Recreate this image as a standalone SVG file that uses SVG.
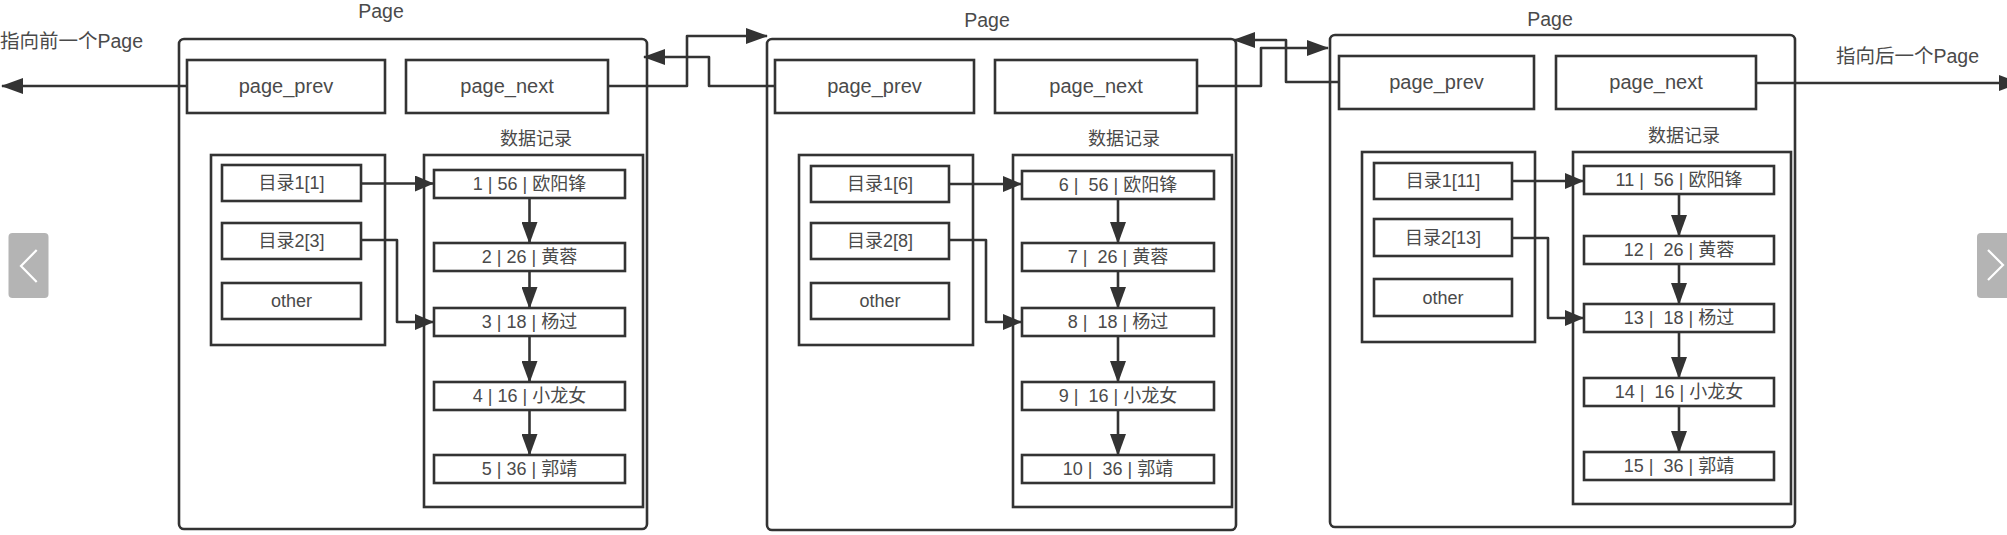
<svg xmlns="http://www.w3.org/2000/svg" width="2007" height="535" viewBox="0 0 2007 535">
<style>
.box{fill:none;stroke:#333;stroke-width:2.6}
.outer{fill:none;stroke:#333;stroke-width:2.6}
.ln{fill:none;stroke:#333;stroke-width:2.6;stroke-linejoin:round}
text{font-family:"Liberation Sans","Noto Sans CJK SC",sans-serif;fill:#4a4a4a;text-anchor:middle;white-space:pre}
.t20{font-size:20px}
.t19{font-size:19.5px}
.t18{font-size:18px}
.t17{font-size:18px}
.lft{text-anchor:start}
.btn{fill:#b4b4b4}
.chev{fill:none;stroke:#fff;stroke-width:2.2}
</style>
<defs>
<marker id="arr" markerUnits="userSpaceOnUse" markerWidth="22" markerHeight="16" refX="21" refY="8" orient="auto">
<path d="M0,0 L22,8 L0,16 z" fill="#333"/>
</marker>
<marker id="arrS" markerUnits="userSpaceOnUse" markerWidth="19" markerHeight="16" refX="18" refY="8" orient="auto">
<path d="M0,0 L19,8 L0,16 z" fill="#333"/>
</marker>
</defs>

<g id="labels">
<text class="t19 lft" x="0" y="48">指向前一个Page</text>
<text class="t19 lft" x="1836" y="63">指向后一个Page</text>
</g>

<g id="page1">
<rect class="outer" x="179" y="39" width="468" height="490" rx="5"/>
<text class="t19" x="381" y="18">Page</text>
<rect class="box" x="187" y="60" width="198" height="53"/>
<text class="t20" x="286" y="93">page_prev</text>
<rect class="box" x="406" y="60" width="202" height="53"/>
<text class="t20" x="507" y="93">page_next</text>
<text class="t18" x="536" y="145">数据记录</text>
<rect class="box" x="211" y="155" width="174" height="190"/>
<rect class="box" x="424" y="155" width="219" height="352"/>
<rect class="box" x="222" y="165" width="139" height="36"/>
<text class="t17" x="291.5" y="189">目录1[1]</text>
<rect class="box" x="222" y="223" width="139" height="36"/>
<text class="t17" x="291.5" y="247">目录2[3]</text>
<rect class="box" x="222" y="283" width="139" height="36"/>
<text class="t17" x="291.5" y="307">other</text>
<rect class="box" x="434" y="170" width="191" height="28"/>
<text class="t18" x="529.5" y="190">1 | 56 | 欧阳锋</text>
<rect class="box" x="434" y="243" width="191" height="28"/>
<text class="t18" x="529.5" y="263">2 | 26 | 黄蓉</text>
<rect class="box" x="434" y="308" width="191" height="28"/>
<text class="t18" x="529.5" y="328">3 | 18 | 杨过</text>
<rect class="box" x="434" y="382" width="191" height="28"/>
<text class="t18" x="529.5" y="402">4 | 16 | 小龙女</text>
<rect class="box" x="434" y="455" width="191" height="28"/>
<text class="t18" x="529.5" y="475">5 | 36 | 郭靖</text>
</g>

<g id="page2">
<rect class="outer" x="767" y="39" width="469" height="491" rx="5"/>
<text class="t19" x="987" y="27">Page</text>
<rect class="box" x="775" y="60" width="199" height="53"/>
<text class="t20" x="874.5" y="93">page_prev</text>
<rect class="box" x="995" y="60" width="202" height="53"/>
<text class="t20" x="1096" y="93">page_next</text>
<text class="t18" x="1124" y="145">数据记录</text>
<rect class="box" x="799" y="155" width="174" height="190"/>
<rect class="box" x="1013" y="155" width="219" height="352"/>
<rect class="box" x="811" y="166" width="138" height="36"/>
<text class="t17" x="880" y="190">目录1[6]</text>
<rect class="box" x="811" y="223" width="138" height="36"/>
<text class="t17" x="880" y="247">目录2[8]</text>
<rect class="box" x="811" y="283" width="138" height="36"/>
<text class="t17" x="880" y="307">other</text>
<rect class="box" x="1022" y="171" width="192" height="28"/>
<text class="t18" x="1118" y="191">6 |  56 | 欧阳锋</text>
<rect class="box" x="1022" y="243" width="192" height="28"/>
<text class="t18" x="1118" y="263">7 |  26 | 黄蓉</text>
<rect class="box" x="1022" y="308" width="192" height="28"/>
<text class="t18" x="1118" y="328">8 |  18 | 杨过</text>
<rect class="box" x="1022" y="382" width="192" height="28"/>
<text class="t18" x="1118" y="402">9 |  16 | 小龙女</text>
<rect class="box" x="1022" y="455" width="192" height="28"/>
<text class="t18" x="1118" y="475">10 |  36 | 郭靖</text>
</g>

<g id="page3">
<rect class="outer" x="1330" y="35" width="465" height="492" rx="5"/>
<text class="t19" x="1550" y="26">Page</text>
<rect class="box" x="1339" y="56" width="195" height="53"/>
<text class="t20" x="1436.5" y="89">page_prev</text>
<rect class="box" x="1556" y="56" width="200" height="53"/>
<text class="t20" x="1656" y="89">page_next</text>
<text class="t18" x="1684" y="142">数据记录</text>
<rect class="box" x="1362" y="152" width="173" height="190"/>
<rect class="box" x="1573" y="152" width="218" height="352"/>
<rect class="box" x="1374" y="163" width="138" height="36"/>
<text class="t17" x="1443" y="187">目录1[11]</text>
<rect class="box" x="1374" y="219" width="138" height="37"/>
<text class="t17" x="1443" y="244">目录2[13]</text>
<rect class="box" x="1374" y="279" width="138" height="37"/>
<text class="t17" x="1443" y="304">other</text>
<rect class="box" x="1584" y="166" width="190" height="28"/>
<text class="t18" x="1679" y="186">11 |  56 | 欧阳锋</text>
<rect class="box" x="1584" y="236" width="190" height="28"/>
<text class="t18" x="1679" y="256">12 |  26 | 黄蓉</text>
<rect class="box" x="1584" y="304" width="190" height="28"/>
<text class="t18" x="1679" y="324">13 |  18 | 杨过</text>
<rect class="box" x="1584" y="378" width="190" height="28"/>
<text class="t18" x="1679" y="398">14 |  16 | 小龙女</text>
<rect class="box" x="1584" y="452" width="190" height="28"/>
<text class="t18" x="1679" y="472">15 |  36 | 郭靖</text>
</g>

<g id="connectors">
<path class="ln" d="M187,86 H2" marker-end="url(#arr)"/>
<path class="ln" d="M608,86 H687 V36 H767" marker-end="url(#arr)"/>
<path class="ln" d="M775,86 H709 V57 H644" marker-end="url(#arr)"/>
<path class="ln" d="M1197,86 H1261 V48 H1328" marker-end="url(#arr)"/>
<path class="ln" d="M1339,82 H1286 V40 H1234" marker-end="url(#arr)"/>
<path class="ln" d="M1756,83 H2020" marker-end="url(#arr)"/>

<path class="ln" d="M361,183.5 H433" marker-end="url(#arrS)"/>
<path class="ln" d="M361,240 H397 V322 H433" marker-end="url(#arrS)"/>
<path class="ln" d="M529.5,198 V243" marker-end="url(#arr)"/>
<path class="ln" d="M529.5,271 V308" marker-end="url(#arr)"/>
<path class="ln" d="M529.5,336 V382" marker-end="url(#arr)"/>
<path class="ln" d="M529.5,410 V455" marker-end="url(#arr)"/>

<path class="ln" d="M949,184 H1021" marker-end="url(#arrS)"/>
<path class="ln" d="M949,240 H986 V322 H1021" marker-end="url(#arrS)"/>
<path class="ln" d="M1118,199 V243" marker-end="url(#arr)"/>
<path class="ln" d="M1118,271 V308" marker-end="url(#arr)"/>
<path class="ln" d="M1118,336 V382" marker-end="url(#arr)"/>
<path class="ln" d="M1118,410 V455" marker-end="url(#arr)"/>

<path class="ln" d="M1512,181 H1583" marker-end="url(#arrS)"/>
<path class="ln" d="M1512,238 H1548 V318 H1583" marker-end="url(#arrS)"/>
<path class="ln" d="M1679,194 V236" marker-end="url(#arr)"/>
<path class="ln" d="M1679,264 V304" marker-end="url(#arr)"/>
<path class="ln" d="M1679,332 V378" marker-end="url(#arr)"/>
<path class="ln" d="M1679,406 V452" marker-end="url(#arr)"/>
</g>

<g id="nav-left">
<rect class="btn" x="8.5" y="233" width="40" height="65" rx="4"/>
<polyline class="chev" points="36.7,250 21,266 36.7,282"/>
</g>
<g id="nav-right">
<rect class="btn" x="1977" y="233" width="40" height="65" rx="4"/>
<polyline class="chev" points="1988,250 2003,265 1988,280"/>
</g>
</svg>
